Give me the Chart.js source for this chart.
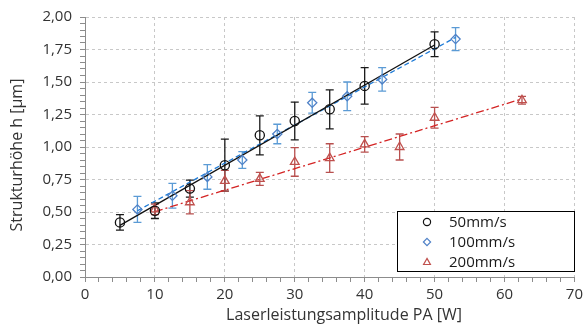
<!DOCTYPE html>
<html>
<head>
<meta charset="utf-8">
<script src="https://cdn.jsdelivr.net/npm/chart.js@4.4.1/dist/chart.umd.min.js"></script>
<style>
  html, body { margin: 0; padding: 0; background: #fff; }
  #wrap { width: 587px; height: 327px; position: relative; }
</style>
</head>
<body>
<div id="wrap"><canvas id="chart" width="587" height="327"></canvas></div>
<script>
// data (x in W, h in µm, err = ± error bar)
const x50 = [5, 10, 15, 20, 25, 30, 35, 40, 50];
const h50 = [0.42, 0.51, 0.68, 0.86, 1.09, 1.20, 1.29, 1.47, 1.79];
const err50 = [0.06, 0.06, 0.065, 0.20, 0.15, 0.145, 0.15, 0.14, 0.095];

const x100 = [7.5, 12.5, 17.5, 22.5, 27.5, 32.5, 37.5, 42.5, 53];
const h100 = [0.52, 0.625, 0.77, 0.90, 1.10, 1.34, 1.39, 1.52, 1.83];
const err100 = [0.10, 0.095, 0.095, 0.065, 0.075, 0.08, 0.11, 0.09, 0.088];

const x200 = [10, 15, 20, 25, 30, 35, 40, 45, 50, 62.5];
const h200 = [0.52, 0.575, 0.74, 0.755, 0.885, 0.915, 1.02, 1.00, 1.225, 1.36];
const err200 = [0.04, 0.09, 0.08, 0.05, 0.11, 0.11, 0.06, 0.10, 0.08, 0.03];

// linear trend lines (start / end points)
const trend50X = [5, 50];
const trend50Y = [0.397, 1.785];
const trend100X = [7.5, 53];
const trend100Y = [0.51, 1.843];
const trend200X = [10, 62.5];
const trend200Y = [0.503, 1.37];

const seriesNames = ['50mm/s', '100mm/s', '200mm/s'];

const FONT = "'Open Sans', 'Noto Sans', sans-serif";
const TXT = '#333333';

const pts = (xs, ys) => xs.map((x, i) => ({ x: x, y: ys[i] }));

// error bars
const errorBars = {
  id: 'errorBars',
  beforeDatasetsDraw(chart) {
    const ctx = chart.ctx;
    const yScale = chart.scales.y;
    chart.data.datasets.forEach((ds, di) => {
      if (!ds.err) return;
      const meta = chart.getDatasetMeta(di);
      ctx.save();
      ctx.strokeStyle = ds.errColor;
      ctx.lineWidth = 1.3;
      meta.data.forEach((el, i) => {
        const v = ds.data[i].y;
        const top = yScale.getPixelForValue(v + ds.err[i]);
        const bot = yScale.getPixelForValue(v - ds.err[i]);
        const x = el.x;
        ctx.beginPath();
        ctx.moveTo(x, top); ctx.lineTo(x, bot);
        ctx.moveTo(x - 4, top); ctx.lineTo(x + 4, top);
        ctx.moveTo(x - 4, bot); ctx.lineTo(x + 4, bot);
        ctx.stroke();
      });
      ctx.restore();
    });
  }
};

function marker(ctx, style, x, y, r) {
  ctx.beginPath();
  if (style === 'circle') {
    ctx.arc(x, y, r, 0, Math.PI * 2);
  } else if (style === 'rectRot') {
    ctx.moveTo(x, y - r); ctx.lineTo(x + r, y); ctx.lineTo(x, y + r); ctx.lineTo(x - r, y); ctx.closePath();
  } else {
    ctx.moveTo(x, y - r); ctx.lineTo(x + r * 0.95, y + r * 0.7); ctx.lineTo(x - r * 0.95, y + r * 0.7); ctx.closePath();
  }
  ctx.stroke();
}

// legend box inside the plot + axis titles
const extras = {
  id: 'extras',
  afterDraw(chart) {
    const ctx = chart.ctx;
    ctx.save();
    // legend
    const bx = 397, by = 211, bw = 177, bh = 60;
    ctx.fillStyle = '#fff';
    ctx.fillRect(bx, by, bw, bh);
    ctx.strokeStyle = '#000';
    ctx.lineWidth = 1;
    ctx.strokeRect(bx + 0.5, by + 0.5, bw, bh);
    const marks = chart.data.datasets.filter(d => d.err);
    marks.forEach((ds, i) => {
      const y = by + 11 + i * 20;
      ctx.strokeStyle = ds.borderColor;
      ctx.lineWidth = 1.2;
      marker(ctx, ds.pointStyle, 427, y, 3.6);
      ctx.fillStyle = '#1a1a1a';
      ctx.font = '15px ' + FONT;
      ctx.textAlign = 'left';
      ctx.textBaseline = 'middle';
      ctx.fillText(seriesNames[i], 449, y + 1);
    });
    // axis titles
    ctx.fillStyle = TXT;
    ctx.font = '16px ' + FONT;
    ctx.textAlign = 'center';
    ctx.textBaseline = 'middle';
    ctx.fillText('Laserleistungsamplitude PA [W]', 344, 315);
    ctx.translate(17, 155);
    ctx.rotate(-Math.PI / 2);
    ctx.fillText('Strukturhöhe h [µm]', 0, 0);
    ctx.restore();
  }
};

const isMajorX = v => Math.round(v) % 10 === 0;
const isMajorY = v => Math.round(v * 100) % 25 === 0;

new Chart(document.getElementById('chart'), {
  type: 'scatter',
  data: {
    datasets: [
      {
        label: seriesNames[0], data: pts(x50, h50), err: err50, errColor: '#1a1a1a',
        pointStyle: 'circle', pointRadius: 4.6, borderColor: '#111', borderWidth: 1.3,
        backgroundColor: 'rgba(0,0,0,0)', order: 1
      },
      {
        label: seriesNames[1], data: pts(x100, h100), err: err100, errColor: '#5b9bd5',
        pointStyle: 'rectRot', pointRadius: 4.6, borderColor: '#4f81c7', borderWidth: 1.3,
        backgroundColor: 'rgba(0,0,0,0)', order: 1
      },
      {
        label: seriesNames[2], data: pts(x200, h200), err: err200, errColor: '#b8504f',
        pointStyle: 'triangle', pointRadius: 5, borderColor: '#c0504d', borderWidth: 1.3,
        backgroundColor: 'rgba(0,0,0,0)', order: 1
      },
      {
        type: 'line', data: pts(trend50X, trend50Y), borderColor: '#111', borderWidth: 1.3,
        pointRadius: 0, fill: false, order: 2
      },
      {
        type: 'line', data: pts(trend100X, trend100Y), borderColor: '#1f7bd6', borderWidth: 1.3,
        borderDash: [5, 3], pointRadius: 0, fill: false, order: 2
      },
      {
        type: 'line', data: pts(trend200X, trend200Y), borderColor: '#d42424', borderWidth: 1.3,
        borderDash: [8, 3, 2, 3], pointRadius: 0, fill: false, order: 2
      }
    ]
  },
  options: {
    responsive: false,
    animation: false,
    layout: { padding: { top: 15, right: 10, left: 0, bottom: 0 } },
    plugins: { legend: { display: false }, tooltip: { enabled: false } },
    scales: {
      x: {
        type: 'linear', min: 0, max: 70,
        afterFit: s => { s.height = 50; },
        ticks: {
          stepSize: 2, autoSkip: false, maxRotation: 0, padding: 4,
          color: TXT, font: { family: FONT, size: 15 },
          callback: v => isMajorX(v) ? String(v) : ''
        },
        grid: {
          color: c => isMajorX(c.tick.value) && c.tick.value > 0 ? '#c8c8c8' : 'rgba(0,0,0,0)',
          tickColor: '#8c8c8c', tickLength: 5, lineWidth: 1
        },
        border: { color: '#8c8c8c', dash: [3, 3] }
      },
      y: {
        min: 0, max: 2,
        afterFit: s => { s.width = 85; },
        ticks: {
          stepSize: 0.05, autoSkip: false, padding: 8,
          color: TXT, font: { family: FONT, size: 15 },
          callback: v => isMajorY(v) ? v.toFixed(2).replace('.', ',') : ''
        },
        grid: {
          color: c => isMajorY(c.tick.value) && c.tick.value > 0.001 ? '#c8c8c8' : 'rgba(0,0,0,0)',
          tickColor: '#8c8c8c', tickLength: 5, lineWidth: 1
        },
        border: { color: '#8c8c8c', dash: [3, 3] }
      }
    }
  },
  plugins: [errorBars, extras]
});
</script>
</body>
</html>
